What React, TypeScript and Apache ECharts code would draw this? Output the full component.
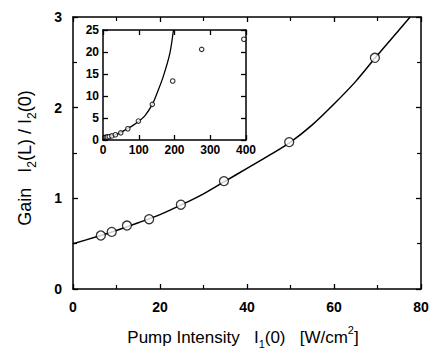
import React, { useEffect, useRef } from "react";
import * as echarts from "echarts";

// Main plot: measured gain vs pump intensity
const mainPointsX = [6.4, 8.9, 12.4, 17.5, 24.8, 34.7, 49.7, 69.4];
const mainPointsY = [0.59, 0.63, 0.70, 0.77, 0.93, 1.19, 1.62, 2.55];

// Main plot: fitted curve
const mainCurveX = [0, 5, 10, 15, 20, 25, 30, 35, 40, 45, 50, 55, 60, 65, 70, 75, 77.5];
const mainCurveY = [0.5, 0.57, 0.645, 0.73, 0.82, 0.93, 1.05, 1.19, 1.33, 1.47, 1.62, 1.81, 2.04, 2.29, 2.58, 2.86, 3.0];

// Inset: extended range points
const insetPointsX = [6.4, 8.9, 12.4, 17.5, 24.8, 34.7, 49.7, 69.4, 99, 138, 195, 276, 394];
const insetPointsY = [0.59, 0.63, 0.70, 0.77, 0.93, 1.19, 1.62, 2.55, 4.3, 8.1, 13.4, 20.6, 22.9];

// Inset: fitted curve
const insetCurveX = [0, 25, 47, 66, 82, 99, 117, 138, 150, 168, 187, 197];
const insetCurveY = [0.5, 0.95, 1.55, 2.5, 3.2, 4.2, 5.5, 8.1, 10.4, 14.3, 19.7, 25];

const mainXTicks = { min: 0, max: 80, interval: 20 };
const mainYTicks = { min: 0, max: 3, interval: 1 };
const insetXTicks = { min: 0, max: 400, interval: 100 };
const insetYTicks = { min: 0, max: 25, interval: 5 };

const xAxisTitle = "{n|Pump Intensity   I}{s|1}{n|(0)   [W/cm}{p|2}{n|]}";
const yAxisTitle = "{n|Gain   I}{s|2}{n|(L) / I}{s|2}{n|(0)}";

const FONT = "Liberation Sans";

function axisBase(mirror: boolean, labelSize: number, minor: boolean) {
  return {
    axisLine: { show: true, onZero: false, lineStyle: { color: "#000", width: 1.5 } },
    axisTick: { show: true, inside: true, length: 5, lineStyle: { color: "#000", width: 1.3 } },
    minorTick: { show: minor, splitNumber: 2, length: 4, lineStyle: { color: "#000", width: 1.2 } },
    splitLine: { show: false },
    minorSplitLine: { show: false },
    axisLabel: {
      show: !mirror,
      color: "#000",
      fontFamily: FONT,
      fontWeight: "bold",
      fontSize: labelSize,
      margin: labelSize === 14 ? 11 : 4,
    },
  };
}

function richStyles(base: number, sub: number) {
  return {
    n: { fontSize: base, fill: "#000", color: "#000", fontFamily: FONT, lineHeight: base + 8, verticalAlign: "middle" },
    s: { fontSize: sub, fill: "#000", color: "#000", fontFamily: FONT, verticalAlign: "bottom", lineHeight: 8 },
    p: { fontSize: sub, fill: "#000", color: "#000", fontFamily: FONT, verticalAlign: "top", lineHeight: 8 },
  };
}

export default function App() {
  const ref = useRef<HTMLDivElement>(null);
  useEffect(() => {
    if (!ref.current) return;
    const chart = echarts.init(ref.current, undefined, { renderer: "svg" });
    const zip = (xs: number[], ys: number[]) => xs.map((x, i) => [x, ys[i]]);
    chart.setOption({
      animation: false,
      backgroundColor: "#fff",
      textStyle: { fontFamily: FONT, color: "#000" },
      grid: [
        { left: 73, right: 15, top: 17, bottom: 62 },
        { left: 103, width: 143, top: 30, height: 110 },
      ],
      xAxis: [
        { gridIndex: 0, type: "value", position: "bottom", ...mainXTicks, ...axisBase(false, 14, true) },
        { gridIndex: 0, type: "value", position: "top", ...mainXTicks, ...axisBase(true, 14, true) },
        { gridIndex: 1, type: "value", position: "bottom", ...insetXTicks, ...axisBase(false, 12, false) },
        { gridIndex: 1, type: "value", position: "top", ...insetXTicks, ...axisBase(true, 12, false) },
      ],
      yAxis: [
        { gridIndex: 0, type: "value", position: "left", ...mainYTicks, ...axisBase(false, 14, true) },
        { gridIndex: 0, type: "value", position: "right", ...mainYTicks, ...axisBase(true, 14, true) },
        { gridIndex: 1, type: "value", position: "left", ...insetYTicks, ...axisBase(false, 12, false) },
        { gridIndex: 1, type: "value", position: "right", ...insetYTicks, ...axisBase(true, 12, false) },
      ],
      graphic: [
        {
          type: "text",
          x: 243,
          y: 337,
          style: {
            text: xAxisTitle,
            fill: "#000",
            fontFamily: FONT,
            fontSize: 17,
            align: "center",
            verticalAlign: "middle",
            rich: richStyles(17, 11),
          },
        },
        {
          type: "text",
          x: 25,
          y: 158,
          rotation: Math.PI / 2,
          style: {
            text: yAxisTitle,
            fill: "#000",
            fontFamily: FONT,
            fontSize: 18,
            align: "center",
            verticalAlign: "middle",
            rich: richStyles(18, 12),
          },
        },
      ],
      series: [
        {
          type: "line", xAxisIndex: 0, yAxisIndex: 0, data: zip(mainCurveX, mainCurveY),
          smooth: 0.3, showSymbol: false, lineStyle: { color: "#000", width: 1.5 }, z: 2,
        },
        {
          type: "scatter", xAxisIndex: 0, yAxisIndex: 0, data: zip(mainPointsX, mainPointsY),
          symbol: "circle", symbolSize: 9,
          itemStyle: { color: "#fff", borderColor: "#000", borderWidth: 1.3 }, z: 3,
        },
        {
          type: "line", xAxisIndex: 2, yAxisIndex: 2, data: zip(insetCurveX, insetCurveY),
          smooth: 0.3, showSymbol: false, lineStyle: { color: "#000", width: 1.3 }, z: 2,
        },
        {
          type: "scatter", xAxisIndex: 2, yAxisIndex: 2, data: zip(insetPointsX, insetPointsY),
          symbol: "circle", symbolSize: 4.5,
          itemStyle: { color: "#fff", borderColor: "#000", borderWidth: 1.1 }, z: 3,
        },
      ],
    });
    return () => chart.dispose();
  }, []);
  return <div ref={ref} style={{ width: 436, height: 351, position: "absolute", left: 0, top: 0 }} />;
}
